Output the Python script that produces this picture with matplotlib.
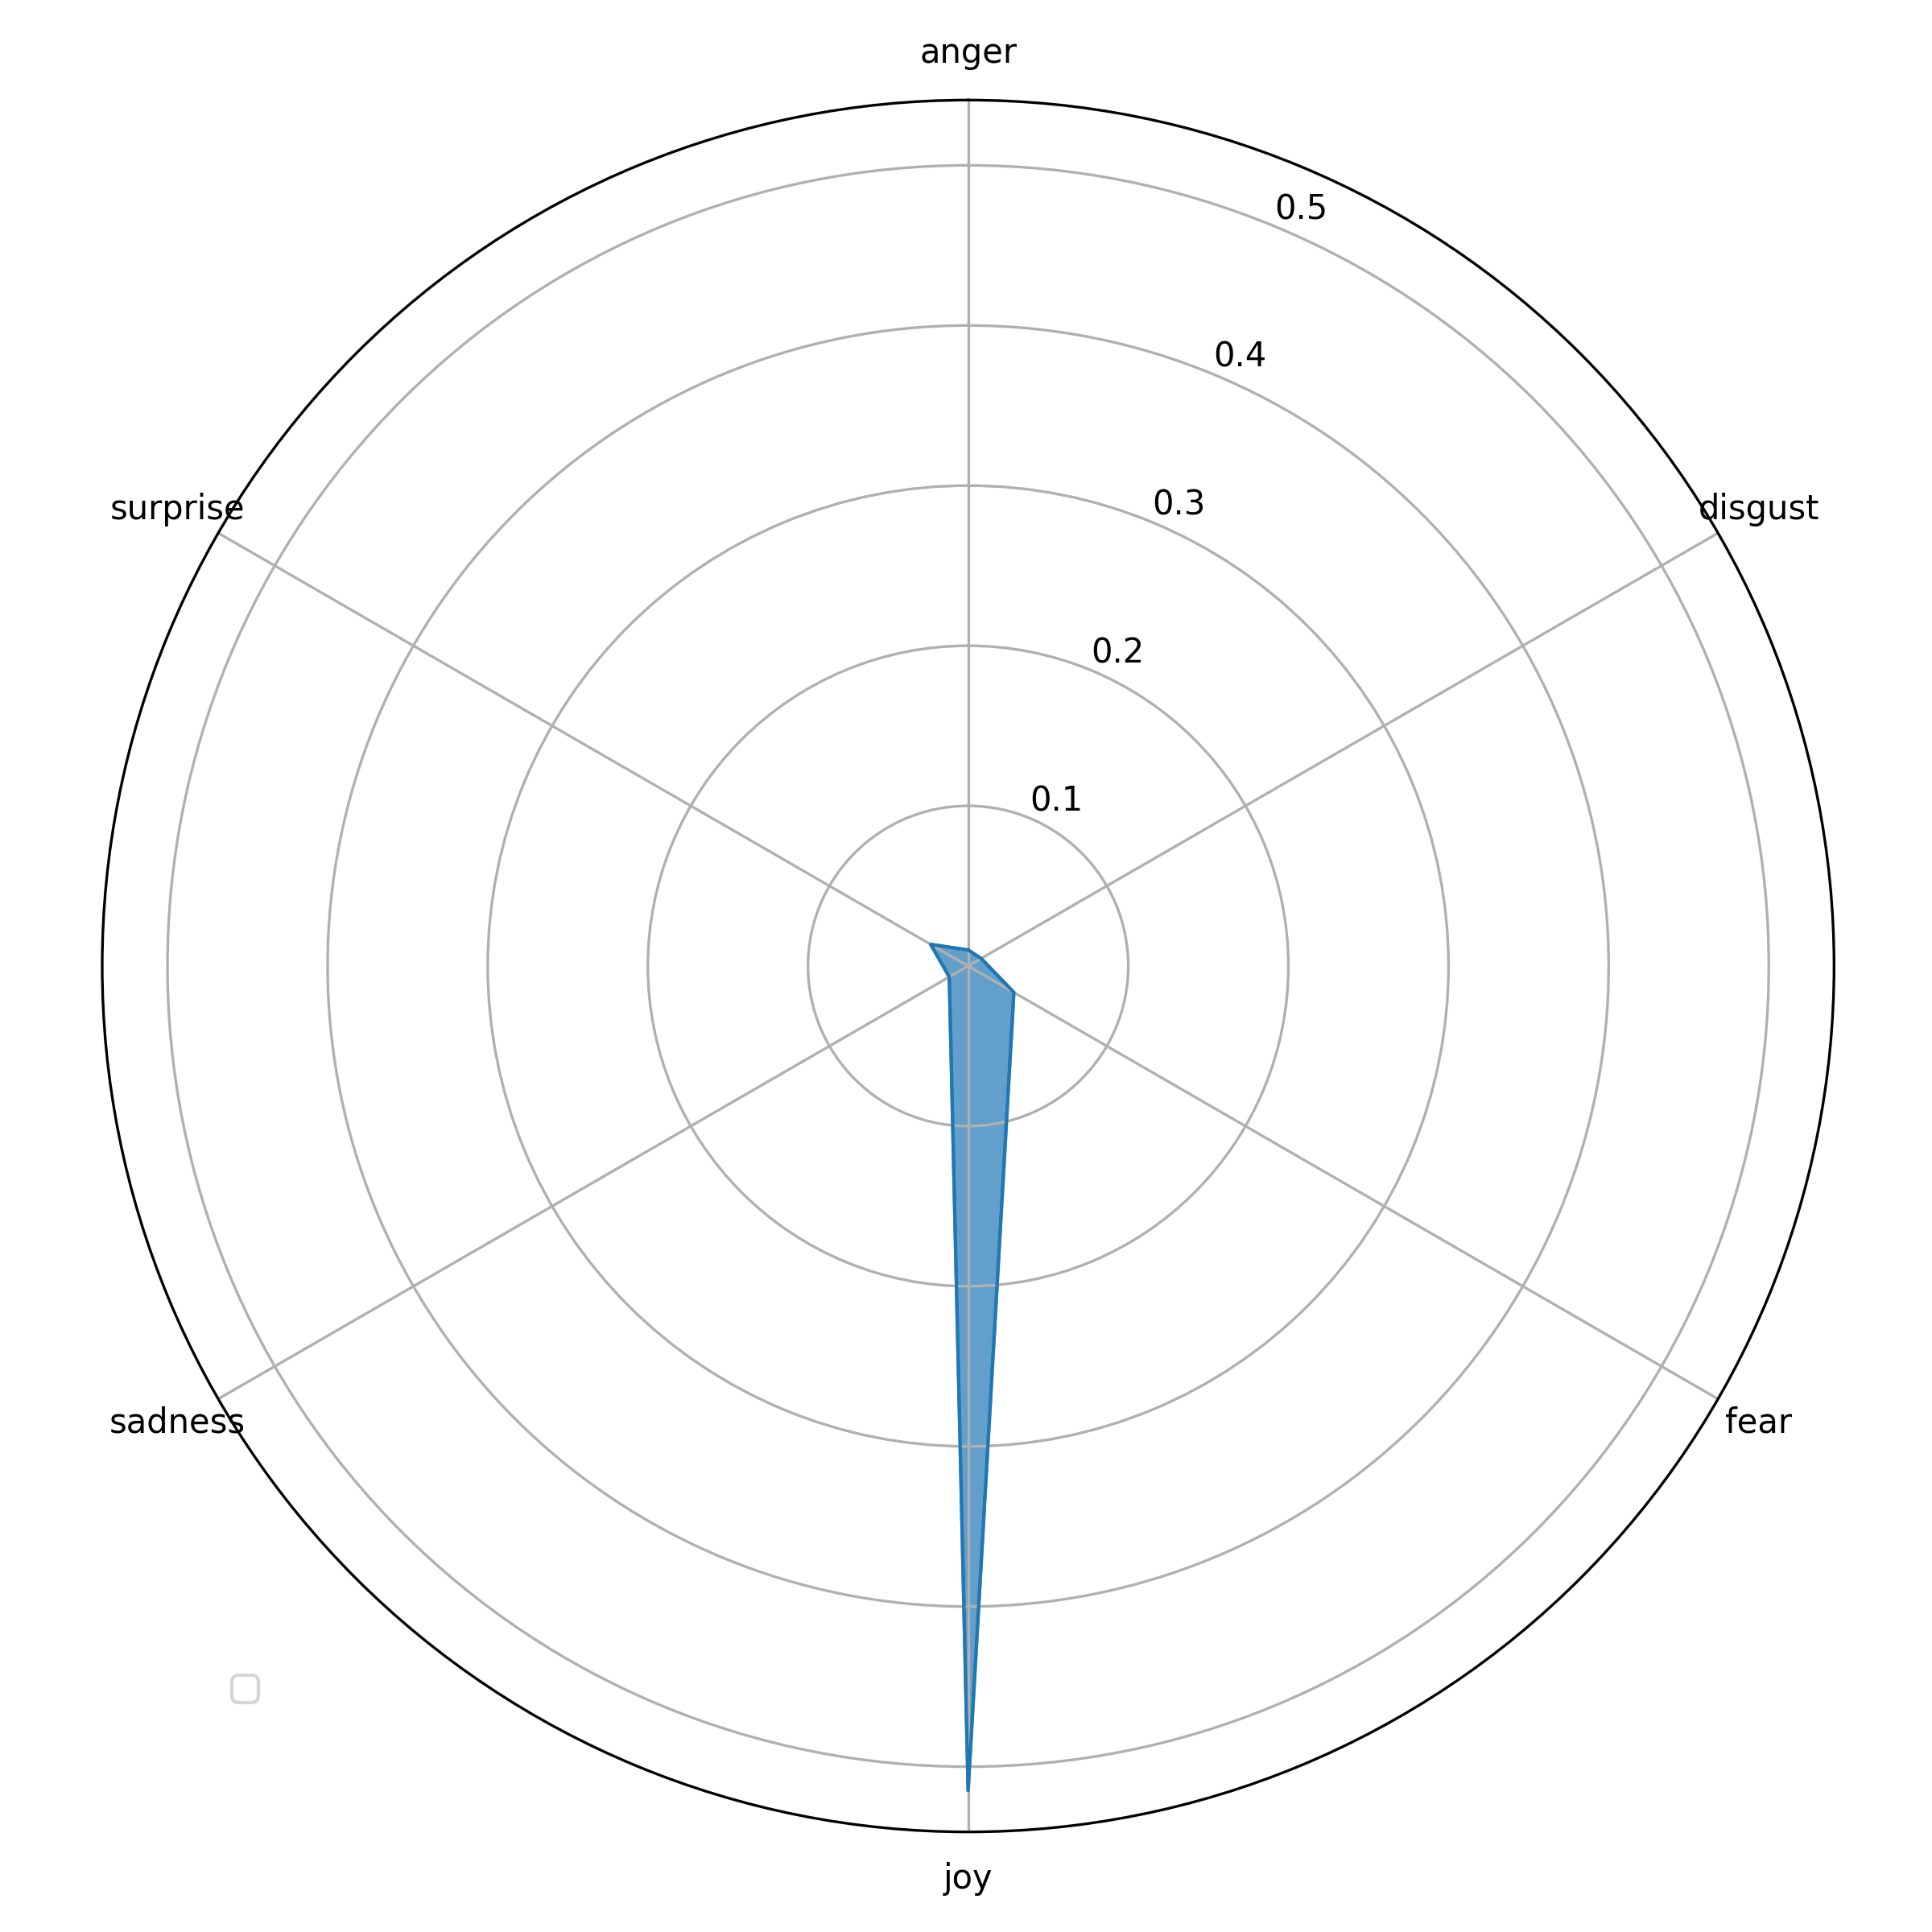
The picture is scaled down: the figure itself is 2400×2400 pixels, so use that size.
import numpy as np
import matplotlib
matplotlib.use("Agg")
import matplotlib.pyplot as plt

categories = ["anger", "disgust", "fear", "joy", "sadness", "surprise"]
values = [0.010, 0.0094, 0.033, 0.515, 0.0136, 0.027]

n = len(categories)
angles = np.linspace(0, 2 * np.pi, n, endpoint=False).tolist()
vals = values + values[:1]
angs = angles + angles[:1]

fig = plt.figure(figsize=(8, 8), dpi=300)
ax = fig.add_subplot(111, polar=True)
ax.set_theta_offset(np.pi / 2)
ax.set_theta_direction(-1)
ax.fill(angs, vals, color="#1f77b4", alpha=0.7)
ax.plot(angs, vals, color="#1f77b4", linewidth=1)
ax.set_xticks(angles)
ax.set_xticklabels(categories)
ax.set_ylim(0, max(values) * 1.05)
ax.set_yticks([0.1, 0.2, 0.3, 0.4, 0.5])
ax.legend(loc="upper right", bbox_to_anchor=(0.1, 0.1))
fig.tight_layout()
fig.savefig("out.png", dpi=300)
